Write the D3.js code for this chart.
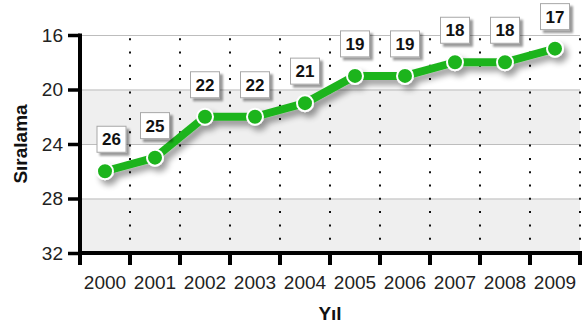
<!DOCTYPE html>
<html>
<head>
<meta charset="utf-8">
<script src="https://cdn.jsdelivr.net/npm/d3@7/dist/d3.min.js"></script>
<style>
  html, body { margin: 0; padding: 0; background: #fff; }
  svg { display: block; font-family: "Liberation Sans", Arial, sans-serif; }
</style>
</head>
<body>
<svg id="chart" width="588" height="329"></svg>
<script>
// Yıllara göre sıralama
const years = ["2000", "2001", "2002", "2003", "2004", "2005", "2006", "2007", "2008", "2009"];
const ranks = [26, 25, 22, 22, 21, 19, 19, 18, 18, 17];
const yTicks = [16, 20, 24, 28, 32];

const W = 588, H = 329;
const margin = { top: 35, right: 8, bottom: 76, left: 80 };
const svg = d3.select("#chart");

const x = d3.scaleBand().domain(years).range([margin.left, W - margin.right]);
const y = d3.scaleLinear().domain([16, 32]).range([margin.top, H - margin.bottom]);

const defs = svg.append("defs");
const sh = defs.append("filter").attr("id", "shadow")
  .attr("x", "-20%").attr("y", "-20%").attr("width", "150%").attr("height", "160%");
sh.append("feGaussianBlur").attr("in", "SourceAlpha").attr("stdDeviation", 3).attr("result", "b");
sh.append("feOffset").attr("in", "b").attr("dx", 4).attr("dy", 5).attr("result", "o");
sh.append("feComponentTransfer").attr("in", "o").attr("result", "s")
  .append("feFuncA").attr("type", "linear").attr("slope", 0.4);
const m1 = sh.append("feMerge");
m1.append("feMergeNode").attr("in", "s");
m1.append("feMergeNode").attr("in", "SourceGraphic");

const bs = defs.append("filter").attr("id", "boxShadow")
  .attr("x", "-20%").attr("y", "-20%").attr("width", "150%").attr("height", "150%");
bs.append("feGaussianBlur").attr("in", "SourceAlpha").attr("stdDeviation", 1.2).attr("result", "b");
bs.append("feOffset").attr("in", "b").attr("dx", 2.5).attr("dy", 2.5).attr("result", "o");
bs.append("feComponentTransfer").attr("in", "o").attr("result", "s")
  .append("feFuncA").attr("type", "linear").attr("slope", 0.4);
const m2 = bs.append("feMerge");
m2.append("feMergeNode").attr("in", "s");
m2.append("feMergeNode").attr("in", "SourceGraphic");

// Alternating background bands
const bands = d3.pairs(yTicks);
svg.append("g").selectAll("rect").data(bands).join("rect")
  .attr("x", margin.left)
  .attr("width", W - margin.right - margin.left)
  .attr("y", d => y(d[0]))
  .attr("height", d => y(d[1]) - y(d[0]))
  .attr("fill", (d, i) => i % 2 ? "#efefef" : "#ffffff");

// Horizontal grid lines
svg.append("g").selectAll("line").data(yTicks.slice(0, -1)).join("line")
  .attr("x1", margin.left).attr("x2", W - margin.right)
  .attr("y1", d => y(d) + 0.5).attr("y2", d => y(d) + 0.5)
  .attr("stroke", "#bdbdbd").attr("stroke-width", 1);

// Dotted vertical grid lines at band edges
const edges = years.map(d => x(d) + x.bandwidth());
svg.append("g").selectAll("line").data(edges).join("line")
  .attr("x1", d => d).attr("x2", d => d)
  .attr("y1", y(32)).attr("y2", y(16))
  .attr("stroke", "#111").attr("stroke-width", 2)
  .attr("stroke-dasharray", "2,11.3");

// Axes
const yAxis = svg.append("g")
  .attr("transform", `translate(${margin.left},0)`)
  .call(d3.axisLeft(y).tickValues(yTicks).tickSize(12).tickPadding(5));
const xAxis = svg.append("g")
  .attr("transform", `translate(0,${H - margin.bottom})`)
  .call(d3.axisBottom(x).tickSize(0).tickPadding(23));

yAxis.select(".domain").remove();
xAxis.select(".domain").remove();
yAxis.selectAll(".tick line").attr("stroke", "#000").attr("stroke-width", 3.5);
yAxis.selectAll(".tick text").attr("font-size", 19).attr("fill", "#222")
  .attr("font-family", "Liberation Sans, Arial, sans-serif");
xAxis.selectAll(".tick text").attr("font-size", 19).attr("fill", "#222")
  .attr("font-family", "Liberation Sans, Arial, sans-serif");

// X tick marks at band edges
svg.append("g").selectAll("line").data([margin.left].concat(edges)).join("line")
  .attr("x1", d => d).attr("x2", d => d)
  .attr("y1", y(32)).attr("y2", y(32) + 12)
  .attr("stroke", "#000").attr("stroke-width", 4);

// Axis lines
svg.append("line")
  .attr("x1", margin.left).attr("x2", margin.left)
  .attr("y1", y(16) - 1.5).attr("y2", y(32) + 2)
  .attr("stroke", "#000").attr("stroke-width", 4);
svg.append("line")
  .attr("x1", margin.left - 2).attr("x2", W - margin.right + 2)
  .attr("y1", y(32)).attr("y2", y(32))
  .attr("stroke", "#000").attr("stroke-width", 4);

// Axis titles
svg.append("text")
  .attr("transform", `translate(27,${(y(16) + y(32)) / 2}) rotate(-90)`)
  .attr("text-anchor", "middle")
  .attr("font-size", 19).attr("font-weight", "bold").attr("fill", "#111")
  .text("Sıralama");
svg.append("text")
  .attr("x", (margin.left + W - margin.right) / 2).attr("y", 320)
  .attr("text-anchor", "middle")
  .attr("font-size", 19).attr("font-weight", "bold").attr("fill", "#111")
  .text("Yıl");

// Data line and markers
const pts = years.map((yr, i) => ({ yr, v: ranks[i], cx: x(yr) + x.bandwidth() / 2, cy: y(ranks[i]) }));
const series = svg.append("g").attr("filter", "url(#shadow)");
series.append("path")
  .datum(pts)
  .attr("d", d3.line().x(d => d.cx).y(d => d.cy))
  .attr("fill", "none").attr("stroke", "#1fb41f").attr("stroke-width", 8)
  .attr("stroke-linejoin", "round");
series.selectAll("circle").data(pts).join("circle")
  .attr("cx", d => d.cx).attr("cy", d => d.cy).attr("r", 8)
  .attr("fill", "#1fb41f").attr("stroke", "#fff").attr("stroke-width", 2);

// Value labels in boxes
const bw = 29, bh = 26;
const lab = svg.append("g").selectAll("g").data(pts).join("g")
  .attr("transform", d => {
    const left = Math.max(d.cx - bw / 2, margin.left + 17);
    return `translate(${left},${d.cy - 19 - bh})`;
  });
lab.append("rect")
  .attr("width", bw).attr("height", bh)
  .attr("fill", "#fff").attr("stroke", "#a8a8a8").attr("stroke-width", 1)
  .attr("filter", "url(#boxShadow)");
lab.append("text")
  .attr("x", bw / 2).attr("y", bh / 2 + 6)
  .attr("text-anchor", "middle")
  .attr("font-size", 17).attr("font-weight", "bold").attr("fill", "#111")
  .text(d => d.v);
</script>
</body>
</html>
